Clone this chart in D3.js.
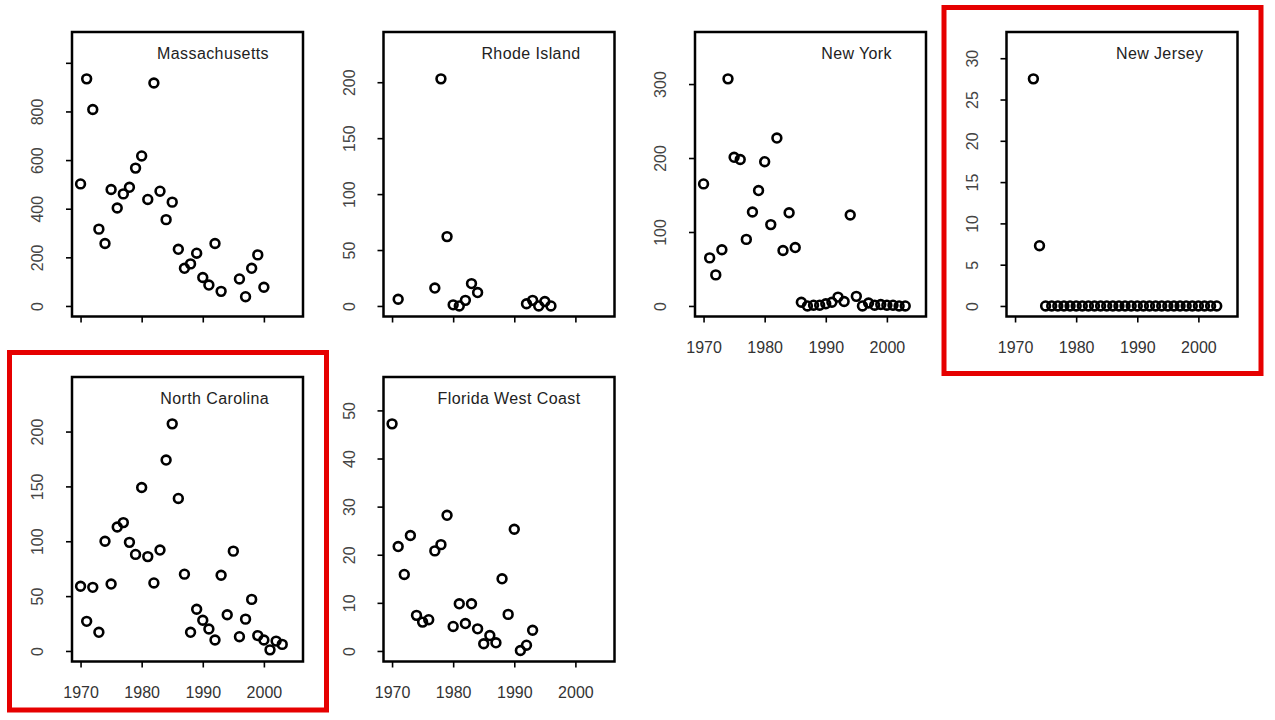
<!DOCTYPE html>
<html>
<head>
<meta charset="utf-8">
<script src="https://cdn.jsdelivr.net/npm/d3@7"></script>
<style>
  body { margin: 0; background: #fff; }
  svg text { font-family: "Liberation Sans", Arial, sans-serif; }
</style>
</head>
<body>
<svg id="chart" width="1275" height="720"></svg>
<script>
// values, one pair of arrays per state
const maYears = [1970, 1971, 1972, 1973, 1974, 1975, 1976, 1977, 1978, 1979, 1980, 1981, 1982, 1983, 1984, 1985, 1986, 1987, 1988, 1989, 1990, 1991, 1992, 1993, 1996, 1997, 1998, 1999, 2000];
const maValues = [502, 934, 808, 316, 257, 479, 403, 461, 488, 567, 617, 438, 917, 472, 355, 427, 233, 155, 173, 217, 117, 86, 257, 60, 111, 38, 155, 210, 77];

const riYears = [1971, 1977, 1978, 1979, 1980, 1981, 1982, 1983, 1984, 1992, 1993, 1994, 1995, 1996];
const riValues = [6, 16, 203, 62, 1, 0, 5, 20, 12, 2, 5, 0, 4, 0];

const nyYears = [1970, 1971, 1972, 1973, 1974, 1975, 1976, 1977, 1978, 1979, 1980, 1981, 1982, 1983, 1984, 1985, 1986, 1987, 1988, 1989, 1990, 1991, 1992, 1993, 1994, 1995, 1996, 1997, 1998, 1999, 2000, 2001, 2002, 2003];
const nyValues = [165, 65, 42, 76, 307, 201, 198, 90, 127, 156, 195, 110, 227, 75, 126, 79, 5, 0, 1, 1, 3, 5, 12, 6, 123, 13, 0, 4, 1, 2, 1, 1, 0, 0];

const njYears = [1973, 1974, 1975, 1976, 1977, 1978, 1979, 1980, 1981, 1982, 1983, 1984, 1985, 1986, 1987, 1988, 1989, 1990, 1991, 1992, 1993, 1994, 1995, 1996, 1997, 1998, 1999, 2000, 2001, 2002, 2003];
const njValues = [27.5, 7.3, 0, 0, 0, 0, 0, 0, 0, 0, 0, 0, 0, 0, 0, 0, 0, 0, 0, 0, 0, 0, 0, 0, 0, 0, 0, 0, 0, 0, 0];

const ncYears = [1970, 1971, 1972, 1973, 1974, 1975, 1976, 1977, 1978, 1979, 1980, 1981, 1982, 1983, 1984, 1985, 1986, 1987, 1988, 1989, 1990, 1991, 1992, 1993, 1994, 1995, 1996, 1997, 1998, 1999, 2000, 2001, 2002, 2003];
const ncValues = [59, 27, 58, 17, 100, 61, 113, 117, 99, 88, 149, 86, 62, 92, 174, 207, 139, 70, 17, 38, 28, 20, 10, 69, 33, 91, 13, 29, 47, 14, 10, 1, 9, 6];

const flYears = [1970, 1971, 1972, 1973, 1974, 1975, 1976, 1977, 1978, 1979, 1980, 1981, 1982, 1983, 1984, 1985, 1986, 1987, 1988, 1989, 1990, 1991, 1992, 1993];
const flValues = [47.2, 21.7, 15.9, 24.0, 7.4, 6.0, 6.5, 20.8, 22.1, 28.2, 5.1, 9.8, 5.7, 9.8, 4.6, 1.5, 3.2, 1.7, 15.0, 7.6, 25.3, 0.1, 1.2, 4.3];

// tick labels
const xTicks = [1970, 1980, 1990, 2000];
const maTicks = [0, 200, 400, 600, 800, 1000];
const maTickLabels = [0, 200, 400, 600, 800];
const riTicks = [0, 50, 100, 150, 200];
const nyTicks = [0, 100, 200, 300];
const njTicks = [0, 5, 10, 15, 20, 25, 30];
const ncTicks = [0, 50, 100, 150, 200];
const flTicks = [0, 10, 20, 30, 40, 50];

const panels = [
  { name: "Massachusetts", years: maYears, values: maValues, ticks: maTicks, labels: maTickLabels, col: 0, row: 0, xLabels: false },
  { name: "Rhode Island", years: riYears, values: riValues, ticks: riTicks, labels: riTicks, col: 1, row: 0, xLabels: false },
  { name: "New York", years: nyYears, values: nyValues, ticks: nyTicks, labels: nyTicks, col: 2, row: 0, xLabels: true },
  { name: "New Jersey", years: njYears, values: njValues, ticks: njTicks, labels: njTicks, col: 3, row: 0, xLabels: true },
  { name: "North Carolina", years: ncYears, values: ncValues, ticks: ncTicks, labels: ncTicks, col: 0, row: 1, xLabels: true },
  { name: "Florida West Coast", years: flYears, values: flValues, ticks: flTicks, labels: flTicks, col: 1, row: 1, xLabels: true },
];

// layout
const colLeft = [72, 383.5, 695, 1006.5];
const rowTop = [32, 377];
const boxW = 231;
const boxH = 284.5;

const svg = d3.select("svg#chart");

// R style limits: xlim = c(1970, 2005), ylim = c(0, 1.16 * max), both padded 4%
function padded(lo, hi) {
  const pad = (hi - lo) * 0.04;
  return [lo - pad, hi + pad];
}

panels.forEach((p) => {
  const g = svg
    .append("g")
    .attr("transform", `translate(${colLeft[p.col]}, ${rowTop[p.row]})`);

  const x = d3.scaleLinear().domain(padded(1970, 2005)).range([0, boxW]);
  const y = d3
    .scaleLinear()
    .domain(padded(0, d3.max(p.values) * 1.16))
    .range([boxH, 0]);

  // y axis, labels rotated like R's las = 0
  const yAxis = g
    .append("g")
    .call(
      d3
        .axisLeft(y)
        .tickValues(p.ticks)
        .tickSize(6)
        .tickFormat((d) => (p.labels.includes(d) ? d : ""))
    );
  yAxis.select(".domain").remove();
  yAxis.selectAll("line").attr("stroke", "#000").attr("stroke-width", 1.6);
  yAxis
    .selectAll("text")
    .attr("transform", "rotate(-90)")
    .attr("x", 0)
    .attr("y", -29)
    .attr("dy", null)
    .style("text-anchor", "middle")
    .attr("fill", "#444")
    .style("font-size", "16px");

  // x axis
  const xAxis = g
    .append("g")
    .attr("transform", `translate(0, ${boxH})`)
    .call(
      d3
        .axisBottom(x)
        .tickValues(xTicks)
        .tickSize(6)
        .tickFormat((d) => (p.xLabels ? d : ""))
    );
  xAxis.select(".domain").remove();
  xAxis.selectAll("line").attr("stroke", "#000").attr("stroke-width", 1.6);
  xAxis
    .selectAll("text")
    .attr("y", 36)
    .attr("dy", null)
    .attr("fill", "#333")
    .style("font-size", "16px");

  // points
  g.append("g")
    .selectAll("circle")
    .data(p.years.map((yr, i) => [yr, p.values[i]]))
    .join("circle")
    .attr("cx", (d) => x(d[0]))
    .attr("cy", (d) => y(d[1]))
    .attr("r", 4.4)
    .attr("fill", "none")
    .attr("stroke", "#000")
    .attr("stroke-width", 2.6);

  // frame
  g.append("rect")
    .attr("width", boxW)
    .attr("height", boxH)
    .attr("fill", "none")
    .attr("stroke", "#000")
    .attr("stroke-width", 2.5);

  g.append("text")
    .attr("x", boxW - 34)
    .attr("y", 27)
    .attr("text-anchor", "end")
    .attr("fill", "#222")
    .style("font-size", "16px")
    .style("letter-spacing", "0.4px")
    .text(p.name);
});

// red highlight boxes around New Jersey and North Carolina
const highlights = [
  { col: 3, row: 0 },
  { col: 0, row: 1 },
];
svg
  .append("g")
  .selectAll("rect")
  .data(highlights)
  .join("rect")
  .attr("x", (d) => colLeft[d.col] - 62.5)
  .attr("y", (d) => rowTop[d.row] - 24.5)
  .attr("width", 317)
  .attr("height", (d) => (d.row === 0 ? 366 : 357.5))
  .attr("fill", "none")
  .attr("stroke", "#e60000")
  .attr("stroke-width", 5);
</script>
</body>
</html>
